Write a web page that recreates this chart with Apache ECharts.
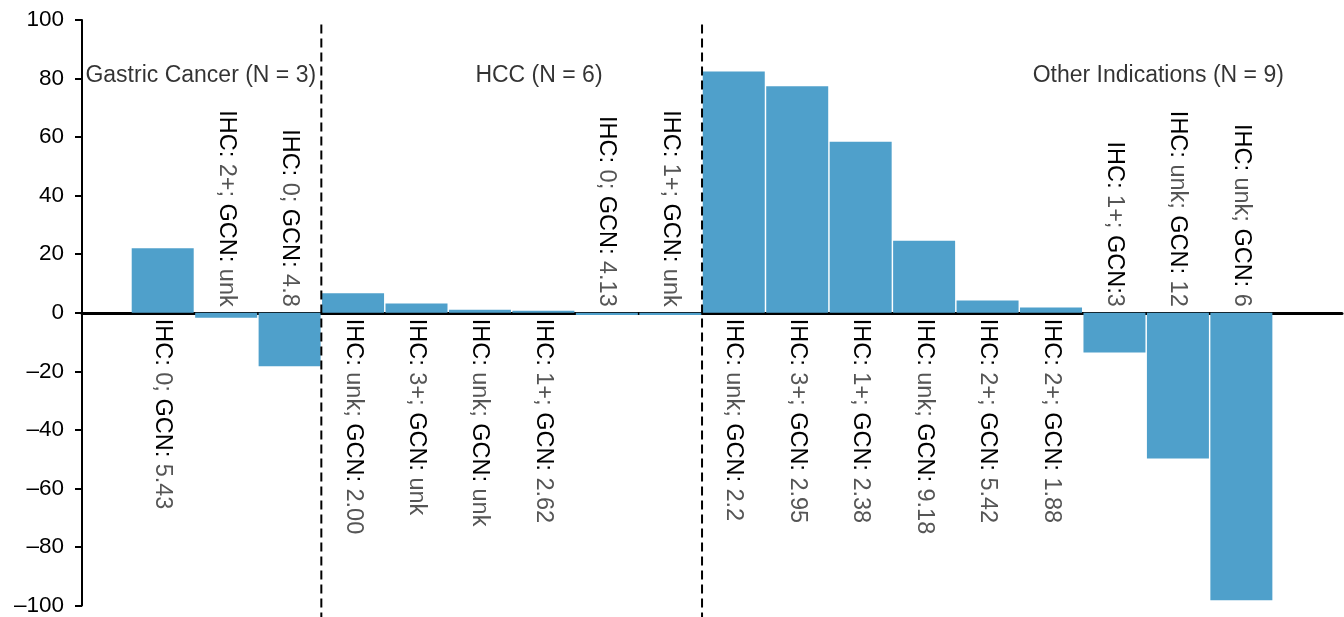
<!DOCTYPE html>
<html>
<head>
<meta charset="utf-8">
<script src="https://cdn.jsdelivr.net/npm/echarts@6/dist/echarts.min.js"></script>
<style>html,body{margin:0;padding:0;background:#fff}#c{width:1344px;height:617px}</style>
</head>
<body>
<div id="c"></div>
<script>
// ---- data ----
var positions = [1,2,3,4,5,6,7,8,9,10,11,12,13,14,15,16,17,18];
var values = [22, -1.7, -18.3, 6.7, 3.2, 1.0, 0.7, -0.8, -0.8, 82.4, 77.4, 58.4, 24.6, 4.2, 1.8, -13.6, -49.8, -98.2];
var barLabels = [
  'IHC: 0; GCN: 5.43', 'IHC: 2+; GCN: unk', 'IHC: 0; GCN: 4.8',
  'IHC: unk; GCN: 2.00', 'IHC: 3+; GCN: unk', 'IHC: unk; GCN: unk', 'IHC: 1+; GCN: 2.62', 'IHC: 0; GCN: 4.13', 'IHC: 1+; GCN: unk',
  'IHC: unk; GCN: 2.2', 'IHC: 3+; GCN: 2.95', 'IHC: 1+; GCN: 2.38', 'IHC: unk; GCN: 9.18', 'IHC: 2+; GCN: 5.42', 'IHC: 2+; GCN: 1.88',
  'IHC: 1+; GCN:3', 'IHC: unk; GCN: 12', 'IHC: unk; GCN: 6'
];
var groupNames = ['Gastric Cancer (N = 3)', 'HCC (N = 6)', 'Other Indications (N = 9)'];
var groupX = [1.6, 6.93, 16.69];
var groupY = [81, 81, 81];
var dividers = [3.5, 9.5];
var dividerTop = 98.5, dividerBottom = -104;
var yTicks = [-100, -80, -60, -40, -20, 0, 20, 40, 60, 80, 100];

// ---- chart ----
var FONT = '"Liberation Sans", Arial, Helvetica, sans-serif';
function richLabel(s) {
  return s.split(/(IHC:|GCN:)/).filter(function (p) { return p.length; }).map(function (p) {
    if (p === 'IHC:' || p === 'GCN:') return '{k|' + p + '}';
    return '{v|' + p + '}';
  }).join('');
}
var rich = {
  k: { color: '#000', fontSize: 23.5, fontFamily: FONT },
  v: { color: '#555', fontSize: 23.5, fontFamily: FONT }
};
var barData = positions.map(function (x, i) {
  var v = values[i];
  return {
    value: [x, v],
    label: {
      show: true,
      position: v >= 0 ? 'bottom' : 'top',
      distance: 6,
      rotate: -90,
      align: v >= 0 ? 'left' : 'right',
      verticalAlign: 'middle',
      formatter: richLabel(barLabels[i]),
      rich: rich
    }
  };
});
var series = [{
  type: 'bar',
  data: barData,
  barWidth: 62,
  itemStyle: { color: '#4fa0cb' },
  silent: true,
  z: 2
}];
dividers.forEach(function (d) {
  series.push({
    type: 'line',
    data: [[d, dividerTop], [d, dividerBottom]],
    symbol: 'none',
    clip: false,
    silent: true,
    lineStyle: { color: '#000', width: 2, type: [9, 5] },
    z: 5
  });
});
series.push({
  type: 'scatter',
  data: groupX.map(function (x, i) { return { value: [x, groupY[i]], name: groupNames[i] }; }),
  symbolSize: 1,
  itemStyle: { color: 'rgba(0,0,0,0)' },
  silent: true,
  label: {
    show: true,
    position: 'inside',
    formatter: function (p) { return p.name; },
    color: '#000',
    fontSize: 23,
    fontFamily: FONT
  },
  z: 6
});

var chart = echarts.init(document.getElementById('c'));
chart.setOption({
  animation: false,
  backgroundColor: '#fff',
  grid: { left: 82, right: 2, top: 20, bottom: 9, containLabel: false },
  xAxis: {
    type: 'value',
    min: -0.272,
    max: 19.586,
    axisLine: { show: true, onZero: true, lineStyle: { color: '#000', width: 3 } },
    axisTick: { show: false },
    axisLabel: { show: false },
    splitLine: { show: false }
  },
  yAxis: {
    type: 'value',
    min: yTicks[0],
    max: yTicks[yTicks.length - 1],
    interval: 20,
    axisLine: { show: true, onZero: false, lineStyle: { color: '#000', width: 2 } },
    axisTick: { show: true, inside: false, length: 7, lineStyle: { color: '#000', width: 2 } },
    axisLabel: {
      color: '#000', fontSize: 22.5, fontFamily: FONT, margin: 18,
      formatter: function (v) { return v < 0 ? '\u2013' + Math.abs(v) : String(v); }
    },
    splitLine: { show: false }
  },
  series: series
});
</script>
</body>
</html>
